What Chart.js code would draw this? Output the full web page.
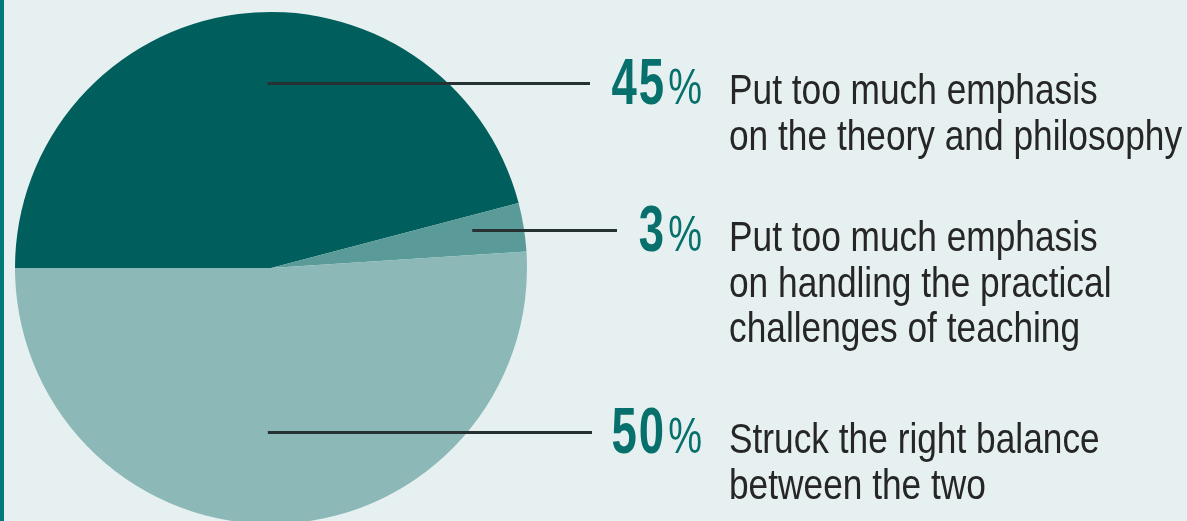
<!DOCTYPE html>
<html>
<head>
<meta charset="utf-8">
<script src="https://cdn.jsdelivr.net/npm/chart.js@4.4.1/dist/chart.umd.min.js"></script>
<style>
  html, body { margin: 0; padding: 0; overflow: hidden; background: #e7f0f0; }
  body { width: 1187px; height: 521px; position: relative; }
  #bar { position: absolute; left: 0; top: 0; width: 4px; height: 521px; background: #007a78; z-index: 2; }
  #wrap { position: absolute; left: 0; top: 0; width: 1187px; height: 530px; }
</style>
</head>
<body>
<div id="bar"></div>
<div id="wrap"><canvas id="pieChart"></canvas></div>
<script>
// survey answers (total 98%, rest did not answer)
const labels = ['Too much theory and philosophy', 'Too much practical challenges', 'Right balance'];
const values = [45, 3, 50];
const pctLabels = ['45', '3', '50'];
const descLines = [
    ['Put too much emphasis', 'on the theory and philosophy'],
    ['Put too much emphasis', 'on handling the practical', 'challenges of teaching'],
    ['Struck the right balance', 'between the two']
];
const sliceColors = ['#005f5c', '#5a9b99', '#8cb8b7'];

// where each leader line leaves its slice: [fraction along the arc, fraction of radius]
const leaderAt = [[0.538, 0.723], [0.36, 0.80], [0.516, 0.64]];
const leaderEndX = [590, 617, 592];

const pctRight = 702;   // right edge of the big percentages
const textLeft = 729;   // left edge of the descriptions
const lineGap = 45.5;

// draw text squeezed horizontally (condensed look)
function drawSqueezed(ctx, text, x, y, sx, align) {
    ctx.save();
    ctx.translate(x, y);
    ctx.scale(sx, 1);
    ctx.textAlign = align;
    ctx.fillText(text, 0, 0);
    ctx.restore();
}

const calloutPlugin = {
    id: 'callouts',
    afterDatasetsDraw(chart) {
        const ctx = chart.ctx;
        const meta = chart.getDatasetMeta(0);
        meta.data.forEach((arc, i) => {
            const p = arc.getProps(['x', 'y', 'startAngle', 'endAngle', 'outerRadius'], true);
            const a = p.startAngle + leaderAt[i][0] * (p.endAngle - p.startAngle);
            const r = leaderAt[i][1] * p.outerRadius;
            const x0 = p.x + r * Math.cos(a);
            const y0 = Math.round(p.y + r * Math.sin(a)) + 0.5;

            ctx.save();
            ctx.strokeStyle = '#263131';
            ctx.lineWidth = 3;
            ctx.beginPath();
            ctx.moveTo(x0, y0);
            ctx.lineTo(leaderEndX[i], y0);
            ctx.stroke();

            const base = y0 + 20.5;
            ctx.textBaseline = 'alphabetic';
            ctx.fillStyle = '#07706c';

            // percent sign
            ctx.font = '50px "Liberation Sans", Arial, sans-serif';
            const sxPct = 0.76;
            const pctW = ctx.measureText('%').width * sxPct;
            drawSqueezed(ctx, '%', pctRight, base, sxPct, 'right');

            // number, a little letter-spaced
            ctx.font = 'bold 65px "Liberation Sans", Arial, sans-serif';
            ctx.letterSpacing = '3px';
            drawSqueezed(ctx, pctLabels[i], pctRight - pctW - 2, base, 0.70, 'right');
            ctx.letterSpacing = '0px';

            // description
            ctx.fillStyle = '#262626';
            ctx.font = '42px "Liberation Sans", Arial, sans-serif';
            descLines[i].forEach((line, k) => {
                drawSqueezed(ctx, line, textLeft, base + k * lineGap, 0.84, 'left');
            });
            ctx.restore();
        });
    }
};

const ctx = document.getElementById('pieChart').getContext('2d');
new Chart(ctx, {
    type: 'pie',
    data: {
        labels: labels,
        datasets: [{
            data: values,
            backgroundColor: sliceColors,
            borderWidth: 0,
            hoverOffset: 0,
            offset: 0
        }]
    },
    options: {
        responsive: true, maintainAspectRatio: false,
        animation: false,
        events: [],
        rotation: 270,
        layout: { padding: { left: 15, top: 12, right: 660, bottom: 6 } },
        plugins: { legend: { display: false }, tooltip: { enabled: false } }
    },
    plugins: [calloutPlugin]
});
</script>
</body>
</html>
